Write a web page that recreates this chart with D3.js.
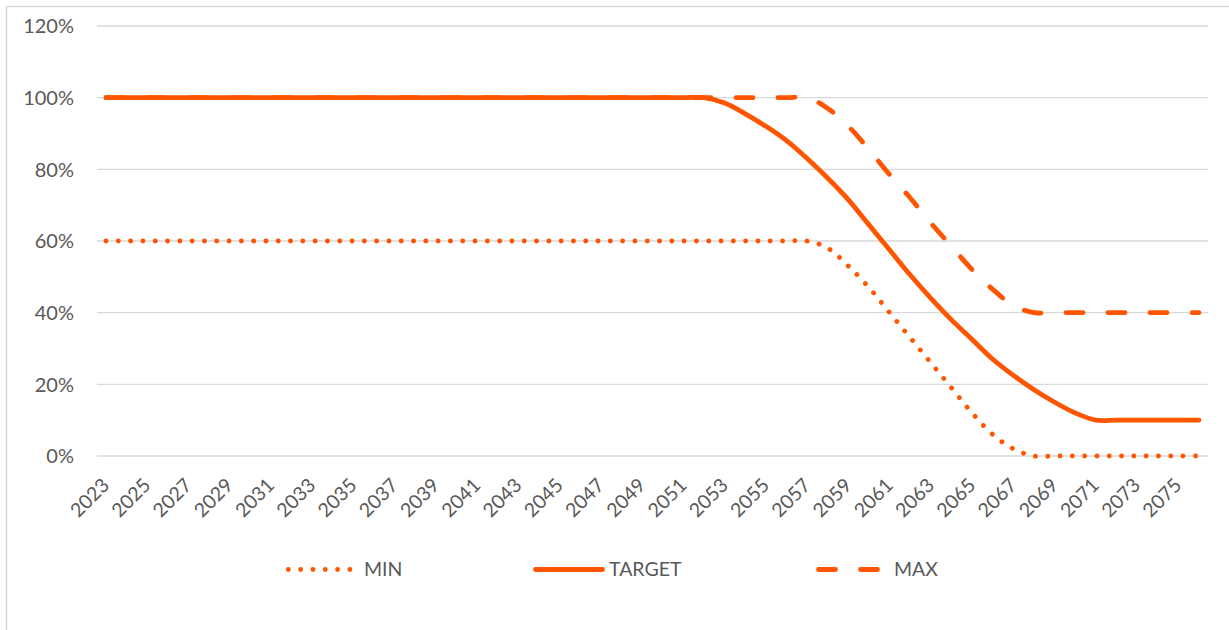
<!DOCTYPE html>
<html>
<head>
<meta charset="utf-8">
<script src="https://cdn.jsdelivr.net/npm/d3@7"></script>
<style>
  html, body { margin: 0; padding: 0; background: #fff; }
  svg { display: block; font-family: Lato, "Open Sans", sans-serif; }
</style>
</head>
<body>
<div id="chart"></div>
<script>
// categories
const years = d3.range(2023, 2077);
const yTicks = [0, 0.2, 0.4, 0.6, 0.8, 1.0, 1.2];
const xTickYears = years.filter((y, i) => i % 2 === 0);

// series values (percent)
const minValues = [
  60, 60, 60, 60, 60, 60, 60, 60, 60, 60, 60, 60, 60, 60, 60, 60, 60, 60,
  60, 60, 60, 60, 60, 60, 60, 60, 60, 60, 60, 60, 60, 60, 60, 60, 60,
  58, 53, 47, 40, 33, 26, 19, 12, 6, 2, 0,
  0, 0, 0, 0, 0, 0, 0, 0
];
const targetValues = [
  100, 100, 100, 100, 100, 100, 100, 100, 100, 100, 100, 100, 100, 100, 100,
  100, 100, 100, 100, 100, 100, 100, 100, 100, 100, 100, 100, 100, 100, 100,
  98.5, 95.5, 92, 88, 83, 77.5, 71.5, 64.5, 57.5, 50.5, 44, 38, 32.5, 27, 22.5, 18.5, 15, 12, 10,
  10, 10, 10, 10, 10
];
const maxValues = [
  100, 100, 100, 100, 100, 100, 100, 100, 100, 100, 100, 100, 100, 100, 100, 100, 100, 100,
  100, 100, 100, 100, 100, 100, 100, 100, 100, 100, 100, 100, 100, 100, 100, 100, 100,
  97, 92, 85.5, 78.5, 72, 65, 58.5, 52, 46.5, 42, 40,
  40, 40, 40, 40, 40, 40, 40, 40
];

const seriesNames = ["MIN", "TARGET", "MAX"];

const width = 1229;
const height = 630;
const orange = "#ff5500";
const grey = "#595959";
const gridColor = "#d9d9d9";

const styles = {
  MIN: { dash: "0.1 12.2" },
  TARGET: { dash: null },
  MAX: { dash: "17 25" }
};

const svg = d3.select("#chart").append("svg")
  .attr("width", width)
  .attr("height", height);

// outer frame (left and top edges visible)
svg.append("path")
  .attr("d", `M6.5,${height} V6.5 H${width}`)
  .attr("fill", "none")
  .attr("stroke", gridColor)
  .attr("stroke-width", 1.5);

const x = d3.scalePoint().domain(years).range([106, 1199]);
const y = d3.scaleLinear().domain([0, 1.2]).range([456, 26]);

// gridlines
svg.append("g")
  .selectAll("line")
  .data(yTicks)
  .join("line")
  .attr("x1", 97)
  .attr("x2", 1208)
  .attr("y1", d => y(d))
  .attr("y2", d => y(d))
  .attr("stroke", gridColor)
  .attr("stroke-width", 1.4);

// y axis labels
svg.append("g")
  .selectAll("text")
  .data(yTicks)
  .join("text")
  .attr("x", 74)
  .attr("y", d => y(d))
  .attr("dy", "0.36em")
  .attr("text-anchor", "end")
  .attr("fill", grey)
  .attr("font-size", 20)
  .text(d => d3.format(".0%")(d));

// x axis labels
svg.append("g")
  .selectAll("text")
  .data(xTickYears)
  .join("text")
  .attr("transform", d => `translate(${x(d) + 1},${483}) rotate(-45)`)
  .attr("text-anchor", "end")
  .attr("dominant-baseline", "middle")
  .attr("fill", grey)
  .attr("font-size", 19.5)
  .text(d => d);

// lines
const seriesData = {
  MIN: minValues,
  TARGET: targetValues,
  MAX: maxValues
};

const line = d3.line()
  .curve(d3.curveCatmullRom.alpha(0.5))
  .x((d, i) => x(years[i]))
  .y(d => y(d / 100));

seriesNames.forEach(name => {
  svg.append("path")
    .datum(seriesData[name])
    .attr("d", line)
    .attr("fill", "none")
    .attr("stroke", orange)
    .attr("stroke-width", 4.8)
    .attr("stroke-linecap", "round")
    .attr("stroke-linejoin", "round")
    .attr("stroke-dasharray", styles[name].dash);
});

// legend
const legendItems = [
  { name: "MIN", x1: 288.3, x2: 350, tx: 364 },
  { name: "TARGET", x1: 535.5, x2: 602.5, tx: 609 },
  { name: "MAX", x1: 818.5, x2: 878, tx: 894 }
];

const legend = svg.append("g");
legendItems.forEach(item => {
  legend.append("line")
    .attr("x1", item.x1)
    .attr("x2", item.x2)
    .attr("y1", 569.5)
    .attr("y2", 569.5)
    .attr("stroke", orange)
    .attr("stroke-width", 4.8)
    .attr("stroke-linecap", "round")
    .attr("stroke-dasharray", styles[item.name].dash);

  legend.append("text")
    .attr("x", item.tx)
    .attr("y", 575.5)
    .attr("fill", grey)
    .attr("font-size", 19.5)
    .text(item.name);
});
</script>
</body>
</html>
